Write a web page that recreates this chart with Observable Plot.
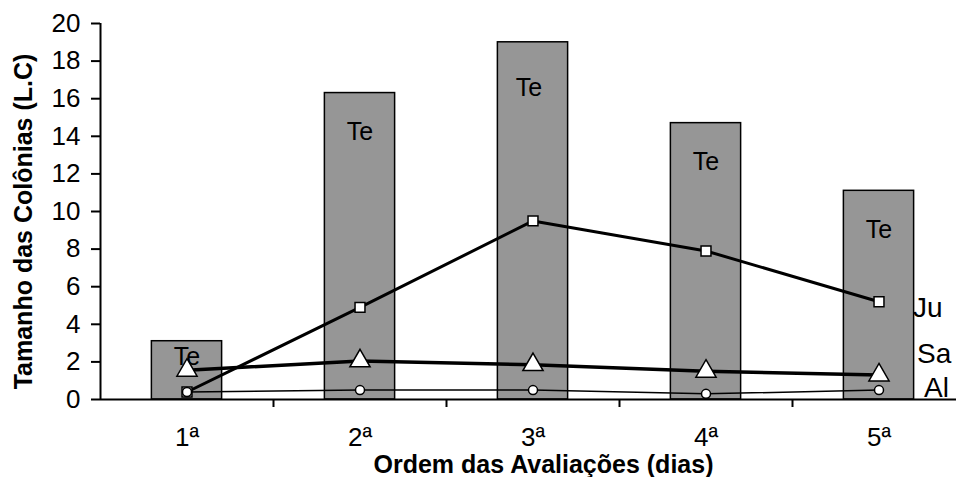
<!DOCTYPE html>
<html>
<head>
<meta charset="utf-8">
<script src="https://cdn.jsdelivr.net/npm/d3@7"></script>
<script src="https://cdn.jsdelivr.net/npm/@observablehq/plot@0.6"></script>
<style>
  html, body { margin: 0; padding: 0; background: white; }
  #chart { width: 956px; height: 477px; }
</style>
</head>
<body>
<div id="chart"></div>
<script>
const categories = ["1ª", "2ª", "3ª", "4ª", "5ª"];
const te = [3.1, 16.3, 19.0, 14.7, 11.1];
const ju = [0.4, 4.9, 9.5, 7.9, 5.2];
const sa = [1.55, 2.05, 1.85, 1.5, 1.3];
const al = [0.4, 0.5, 0.5, 0.3, 0.5];
const barName = "Te";
const seriesNames = ["Ju", "Sa", "Al"];
const yTicks = [0, 2, 4, 6, 8, 10, 12, 14, 16, 18, 20];
const yTitle = "Tamanho das Colônias (L.C)";
const xTitle = "Ordem das Avaliações (dias)";

const rows = categories.map((c, i) => ({c, i, x: i + 0.5, te: te[i], ju: ju[i], sa: sa[i], al: al[i]}));
const last = rows[rows.length - 1];
const font = "Liberation Sans, Arial, Helvetica, sans-serif";

const chart = Plot.plot({
  width: 956,
  height: 477,
  marginLeft: 100,
  marginRight: 0,
  marginTop: 23,
  marginBottom: 78,
  style: {fontFamily: font, fontSize: "24px", color: "black", background: "white"},
  x: {domain: [0, 5], range: [100, 965], axis: null},
  y: {domain: [0, 20], axis: null},
  marks: [
    Plot.rectY(rows, {x1: d => d.x - 0.203, x2: d => d.x + 0.203, y1: 0, y2: "te", fill: "#969696", stroke: "black", strokeWidth: 1.5}),
    Plot.text(rows.filter(d => d.i === 0), {x: "x", y: "te", text: () => barName, dy: 16, fontSize: 25, fill: "black"}),
    Plot.text(rows.filter(d => d.i === 2), {x: "x", y: "te", text: () => barName, dy: 46, dx: -4, fontSize: 25, fill: "black"}),
    Plot.text(rows.filter(d => d.i !== 0 && d.i !== 2), {x: "x", y: "te", text: () => barName, dy: 39, fontSize: 25, fill: "black"}),
    Plot.line(rows, {x: "x", y: "al", stroke: "black", strokeWidth: 1.5}),
    Plot.line(rows, {x: "x", y: "sa", stroke: "black", strokeWidth: 3.5}),
    Plot.line(rows, {x: "x", y: "ju", stroke: "black", strokeWidth: 3}),
    Plot.dot(rows, {x: "x", y: "ju", symbol: "square", r: 5.6, fill: "white", stroke: "black", strokeWidth: 1.5}),
    Plot.dot(rows, {x: "x", y: "sa", symbol: "triangle", r: 7.5, fill: "white", stroke: "black", strokeWidth: 1.5}),
    Plot.dot(rows, {x: "x", y: "al", symbol: "circle", r: 4.5, fill: "white", stroke: "black", strokeWidth: 1.5}),
    Plot.text([last], {x: "x", y: "ju", text: () => seriesNames[0], dx: 34, dy: 6, textAnchor: "start", fontSize: 28, fill: "black"}),
    Plot.text([last], {x: "x", y: "sa", text: () => seriesNames[1], dx: 38, dy: -21, textAnchor: "start", fontSize: 28, fill: "black"}),
    Plot.text([last], {x: "x", y: "al", text: () => seriesNames[2], dx: 45, dy: -2, textAnchor: "start", fontSize: 28, fill: "black"}),
    Plot.ruleY([0], {stroke: "black", strokeWidth: 2}),
    Plot.ruleX([0], {stroke: "black", strokeWidth: 2}),
    Plot.axisY({ticks: yTicks, tickSize: 9, tickPadding: 11, fontSize: 26, label: null, strokeWidth: 2, tickFormat: d => String(d)}),
    Plot.axisX({ticks: [1, 2, 3, 4], tickSize: 8, tickFormat: () => "", label: null, strokeWidth: 2}),
    Plot.axisX({ticks: rows.map(d => d.x), tickSize: 0, tickPadding: 28, fontSize: 26, label: null, tickFormat: v => categories[Math.floor(v)]}),
    Plot.text([yTitle], {frameAnchor: "left", dx: -77, dy: 10, rotate: -90, textAnchor: "middle", lineAnchor: "middle", fontSize: 25, fontWeight: "bold", fill: "black"}),
    Plot.text([xTitle], {frameAnchor: "bottom", dx: 15, dy: 65, textAnchor: "middle", lineAnchor: "middle", fontSize: 25, fontWeight: "bold", fill: "black"})
  ]
});
document.getElementById("chart").appendChild(chart);
</script>
</body>
</html>
